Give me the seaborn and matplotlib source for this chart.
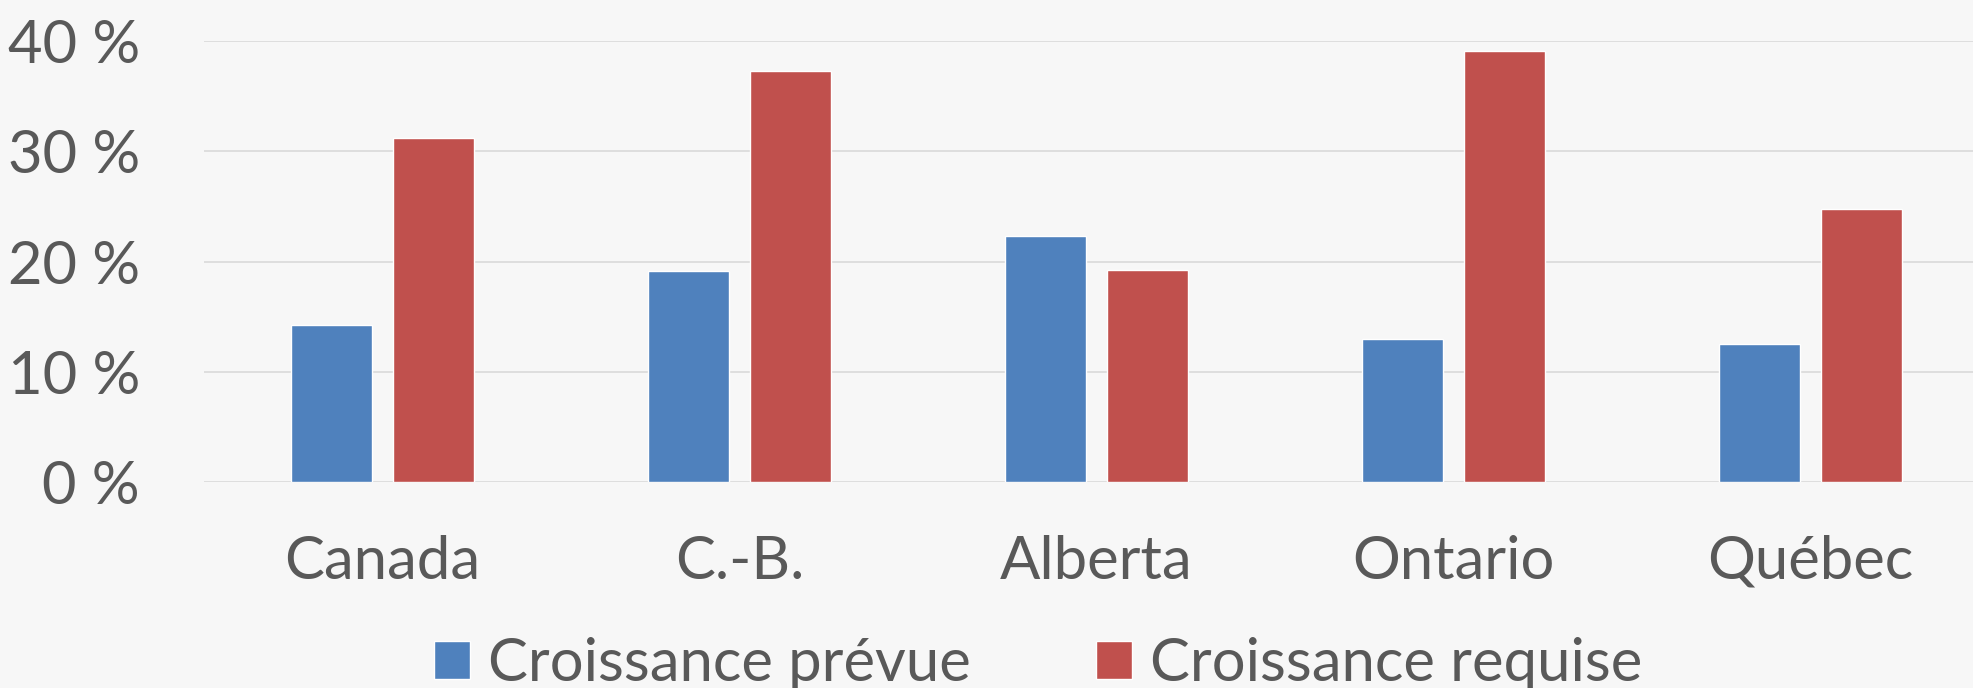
import pandas as pd
import matplotlib
matplotlib.use('Agg')
import matplotlib.pyplot as plt
import seaborn as sns

# Values
regions = ['Canada', 'C.-B.', 'Alberta', 'Ontario', 'Québec']
prevue = [14.2, 19.1, 22.3, 13.0, 12.5]
requise = [31.2, 37.3, 19.2, 39.1, 24.8]
series = ['Croissance prévue', 'Croissance requise']
yticks = [0, 10, 20, 30, 40]

df = pd.DataFrame({
    'Région': regions * 2,
    'Série': [series[0]] * len(regions) + [series[1]] * len(regions),
    'Valeur': prevue + requise,
})

sns.set_style('white')
plt.rcParams['font.family'] = ['Lato', 'DejaVu Sans']

bg = '#f7f7f7'
txt = '#595959'
fig = plt.figure(figsize=(19.73, 6.88), dpi=100, facecolor=bg)
ax = fig.add_axes([204 / 1973, 1 - 482 / 688, 1785 / 1973, (482 - 41) / 688])
ax.set_facecolor(bg)

sns.barplot(data=df, x='Région', y='Valeur', hue='Série', hue_order=series,
            palette=['#4f81bd', '#c0504d'], width=0.57, gap=0.21,
            saturation=1, ax=ax, zorder=3)

ax.set_ylim(0, 40)
ax.set_xlim(-0.5, len(regions) - 0.5)
ax.set_yticks(yticks)
ax.set_yticklabels([f'{v} %' for v in yticks])
ax.grid(axis='y', color='#d9d9d9', lw=1.2, zorder=0)
ax.set_axisbelow(True)
for s in ax.spines.values():
    s.set_visible(False)
ax.tick_params(axis='y', length=0, pad=46, labelsize=43, labelcolor=txt)
ax.tick_params(axis='x', length=0, pad=38, labelsize=43, labelcolor=txt)
ax.set_xlabel('')
ax.set_ylabel('')

ax.legend_.remove()
handles, labels = ax.get_legend_handles_labels()
fig.legend(handles, labels, loc='center', bbox_to_anchor=(0.526, 0.035),
           ncol=2, frameon=False, fontsize=43, labelcolor=txt,
           handlelength=0.6, handleheight=0.6, handletextpad=0.3,
           columnspacing=2.1)

fig.savefig('out.png', dpi=100, facecolor=bg)
